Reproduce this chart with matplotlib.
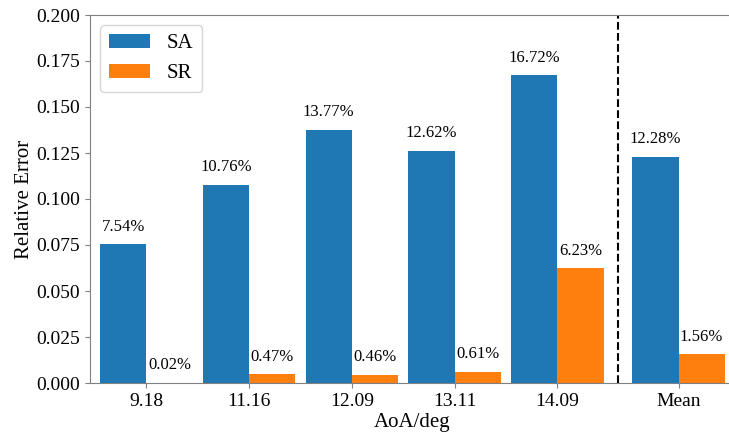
import matplotlib
matplotlib.use("Agg")
import matplotlib.pyplot as plt
import numpy as np

plt.rcParams['font.family'] = ['Liberation Serif', 'DejaVu Serif']

categories = ["9.18", "11.16", "12.09", "13.11", "14.09", "Mean"]
sa_values = [0.0754, 0.1076, 0.1377, 0.1262, 0.1672, 0.1228]
sr_values = [0.0002, 0.0047, 0.0046, 0.0061, 0.0623, 0.0156]
series_names = ["SA", "SR"]
colors = ["#1f77b4", "#ff7f0e"]

x = np.array([0, 1, 2, 3, 4, 5.18])
width = 0.45

fig = plt.figure(figsize=(7.29, 4.37), dpi=100)
ax = fig.add_axes([90 / 729, 1 - 383 / 437, 645 / 729, 368 / 437])

b1 = ax.bar(x - width / 2, sa_values, width, color=colors[0], label=series_names[0])
b2 = ax.bar(x + width / 2, sr_values, width, color=colors[1], label=series_names[1])

for bars in (b1, b2):
    for rect in bars:
        h = rect.get_height()
        ax.annotate(f"{h * 100:.2f}%", (rect.get_x() + rect.get_width() / 2, h),
                    xytext=(0, 7), textcoords="offset points",
                    ha="center", va="bottom", fontsize=12)

ax.axvline(4.59, color="black", linestyle="--", linewidth=1.5)

ax.set_xlim(-0.55, 5.73)
ax.set_ylim(0, 0.2)
ax.set_yticks(np.arange(0, 0.2001, 0.025))
ax.set_yticklabels([f"{v:.3f}" for v in np.arange(0, 0.2001, 0.025)])
ax.set_xticks(x)
ax.set_xticklabels(categories)
ax.tick_params(labelsize=14, colors="#808080", labelcolor="black")
for s in ax.spines.values():
    s.set_color("#808080")
ax.spines['right'].set_visible(False)

ax.set_xlabel("AoA/deg", fontsize=15, labelpad=2)
ax.set_ylabel("Relative Error", fontsize=15, labelpad=2)

ax.legend(loc="upper left", fontsize=15, handlelength=2.0, handleheight=0.7,
          handletextpad=0.8)

fig.savefig("out.png", dpi=100)
